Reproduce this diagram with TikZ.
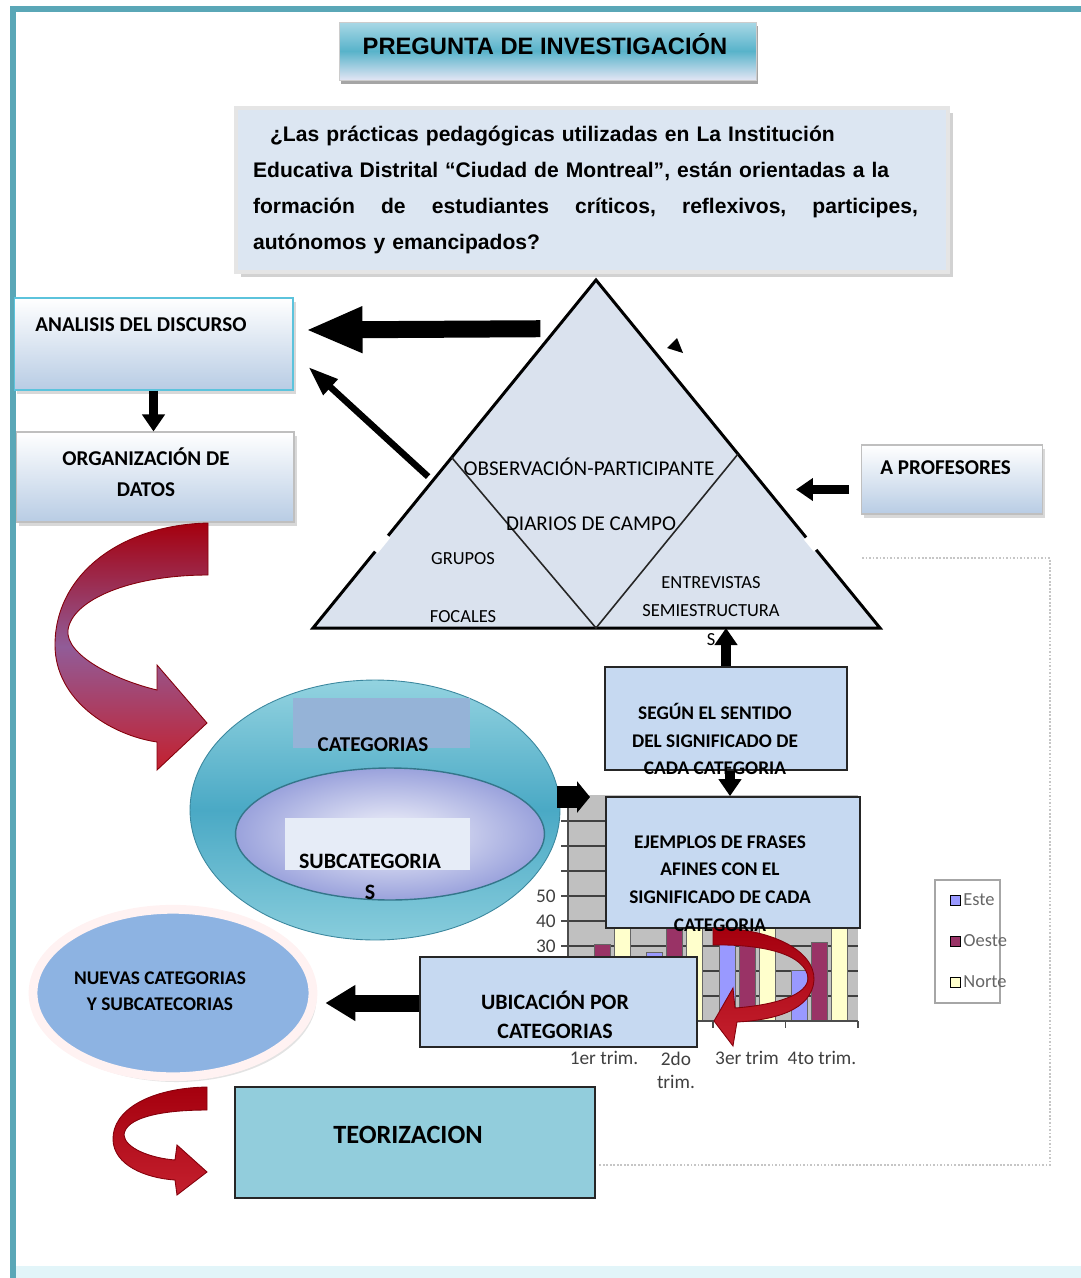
\documentclass[tikz,border=0pt]{standalone}
\usepackage{fontspec}
\setmainfont{Carlito}
\newfontfamily\arialfont{Liberation Sans}
\usetikzlibrary{arrows.meta,positioning,calc,shadows,shapes.geometric}
\definecolor{frameteal}{HTML}{5AA7B7}
\definecolor{framelow}{HTML}{E2F5F9}
\definecolor{qfill}{HTML}{DCE6F2}
\definecolor{boxfill}{HTML}{C6D9F1}
\definecolor{gradblue}{HTML}{B8CCE4}
\definecolor{cyanedge}{HTML}{5CC3DC}
\definecolor{trifill}{HTML}{DAE2EE}
\definecolor{teorfill}{HTML}{92CDDC}
\definecolor{titletop}{HTML}{A9D8E6}
\definecolor{titlemid}{HTML}{58B3CA}
\definecolor{titlebot}{HTML}{E2E5F4}
\definecolor{catlight}{HTML}{93D3E0}
\definecolor{catteal}{HTML}{4AA9C5}
\definecolor{catrectc}{HTML}{95B3D7}
\definecolor{sublav}{HTML}{9AA2DC}
\definecolor{subrectc}{HTML}{E6ECF7}
\definecolor{nuevfill}{HTML}{8DB3E2}
\definecolor{arcdark}{HTML}{A5000E}
\definecolor{arcpurple}{HTML}{915C98}
\definecolor{arcred}{HTML}{C4202E}
\definecolor{este}{HTML}{9999FF}
\definecolor{oeste}{HTML}{993366}
\definecolor{norte}{HTML}{FFFFCC}
\definecolor{plotgray}{HTML}{C0C0C0}
\tikzset{
  frameline/.style={draw=frameteal, line width=3pt},
  chartframe/.style={draw=gray!45, densely dotted, line width=1pt},
  gridln/.style={draw=black!75, line width=0.6pt},
  axisln/.style={draw=black!70, line width=0.6pt},
  barst/.style={draw=black!60, line width=0.4pt},
  axlbl/.style={font=\fontsize{11}{13}\selectfont, text=black!75, inner sep=0pt},
  legbox/.style={rectangle, draw=gray!70, fill=white, line width=0.6pt},
  leglbl/.style={font=\fontsize{10.5}{13}\selectfont, text=black!60, inner sep=0pt},
  titlebox/.style={rectangle, draw=gray!40, top color=titletop, bottom color=titlebot,
                   middle color=titlemid, drop shadow={shadow xshift=1pt, shadow yshift=-2.5pt, fill=black!70}},
  titlelbl/.style={font=\arialfont\bfseries\fontsize{13.5}{16}\selectfont, inner sep=0pt},
  qbox/.style={rectangle, draw=white!80!gray, line width=2pt, fill=qfill,
               drop shadow={shadow xshift=3pt, shadow yshift=-3pt, fill=black!35}},
  qtext/.style={font=\arialfont\bfseries\fontsize{12}{20.5}\selectfont, align=left, inner sep=0pt},
  tri/.style={draw=black, fill=trifill, line width=1.7pt, line join=miter},
  triin/.style={draw=black!85, line width=0.9pt},
  gapln/.style={draw=white, line width=3.5pt},
  trilbl/.style={font=\fontsize{12}{14}\selectfont, inner sep=0pt},
  trismall/.style={font=\fontsize{10.5}{16}\selectfont, align=center, inner sep=0pt},
  gradbox/.style={rectangle, draw=gray!50, top color=white, bottom color=gradblue, line width=0.6pt,
                  drop shadow={shadow xshift=1.5pt, shadow yshift=-2pt, fill=black!30}},
  bluebox/.style={rectangle, draw=black!85, fill=boxfill, line width=1pt},
  boldlbl/.style={font=\bfseries\fontsize{12}{17.6}\selectfont, align=center, inner sep=0pt},
  boldsmall/.style={font=\bfseries\fontsize{11}{15.7}\selectfont, align=center, inner sep=0pt},
  bigarr/.style={draw=black, line width=0.34cm, -{Triangle[length=1.14cm, width=0.85cm]}},
  ubarr/.style={draw=black, line width=0.34cm, -{Triangle[length=0.6cm, width=0.68cm]}},
  diagarr/.style={draw=black, line width=0.13cm, -{Triangle[length=0.6cm, width=0.4cm]}},
  midarr/.style={draw=black, line width=0.19cm, -{Triangle[length=0.34cm, width=0.44cm]}},
  blkarr/.style={draw=black, line width=0.44cm, -{Triangle[length=0.26cm, width=0.62cm]}},
  redarc/.style={top color=arcdark, bottom color=arcred, middle color=arcpurple,
                 draw=arcdark!80!black, line width=0.5pt},
  redarcb/.style={top color=arcdark, bottom color=arcred, draw=arcdark!80!black, line width=0.5pt},
  catell/.style={ellipse, draw=catteal!80!black, line width=0.5pt, top color=catlight,
                 bottom color=catlight!85!catteal, middle color=catteal},
  subell/.style={ellipse, draw=catteal!70!black, line width=0.8pt, inner color=white!90!sublav,
                 outer color=sublav},
  nuevell/.style={ellipse, draw=white!95!red, line width=5pt, fill=nuevfill,
                  drop shadow={shadow xshift=2pt, shadow yshift=-3pt, fill=black!22}},
}
\begin{document}
\begin{tikzpicture}[x=0.02cm, y=-0.02cm]
  \useasboundingbox (0,0) rectangle (1081,1278);
  % frame
  \fill[framelow] (14,1266) rectangle (1081,1278);
  \draw[frameline] (13,1278) -- (13,9) -- (1081,9);
  \draw[chartframe] (862,558) -- (1050,558) -- (1050,1165) -- (598,1165);

  % chart behind the boxes
  \coordinate (plotnw) at (568,795);
  \coordinate (plotse) at (858,1021);
  \fill[plotgray] (plotnw) rectangle (plotse);
  \foreach \k in {1,...,8}
    \draw[gridln] (568,1021-25*\k) -- (858,1021-25*\k);
  \foreach \c/\e/\o/\n in {0/20.4/30.6/45.9, 1/27.4/38.6/46.9, 2/90/34.6/45, 3/20.4/31.6/43.9} {
    \draw[barst, fill=este]  (574+72.5*\c,1021) rectangle (590+72.5*\c,1021-2.5*\e);
    \draw[barst, fill=oeste] (594+72.5*\c,1021) rectangle (610+72.5*\c,1021-2.5*\o);
    \draw[barst, fill=norte] (614+72.5*\c,1021) rectangle (630+72.5*\c,1021-2.5*\n);
  }
  \draw[axisln] (plotnw) -- (568,1021) -- (plotse);
  \foreach \k in {0,...,8}
    \draw[axisln] (561,1021-25*\k) -- (568,1021-25*\k);
  \foreach \k in {1,...,4}
    \draw[axisln] (568+72.5*\k,1021) -- (568+72.5*\k,1028);
  \foreach \v in {30,40,50}
    \node[axlbl, anchor=east] at (556,1021-2.5*\v) {\v};
  \node[axlbl] at (604,1058) {1er trim.};
  \node[axlbl, align=center] at (676,1070) {2do\\trim.};
  \node[axlbl] at (747,1058) {3er trim};
  \node[axlbl] at (822,1058) {4to trim.};
  \node[legbox, minimum width=1.3cm, minimum height=2.46cm] (leg) at (967.5,941.5) {};
  \foreach \yy/\col/\nm in {900/este/Este, 941/oeste/Oeste, 982/norte/Norte} {
    \draw[barst, draw=black, fill=\col] (950,\yy-5) rectangle (960,\yy+5);
    \node[leglbl, anchor=west] at (963,\yy) {\nm};
  }

  % question
  \node[titlebox, minimum width=8.34cm, minimum height=1.16cm] (preg) at (548,51) {};
  \node[titlelbl] (preg-t) at (545,44) {PREGUNTA DE INVESTIGACIÓN};
  \node[qbox, minimum width=14.24cm, minimum height=3.28cm] (quest) at (592,190) {};
  \node[qtext, text width=13.3cm] (quest-t) at (585.5,190)
    {\hspace*{0.34cm}¿Las prácticas pedagógicas utilizadas en La Institución\\
     Educativa Distrital “Ciudad de Montreal”, están orientadas a la\\
     \makebox[13.3cm][l]{formación\hfill de\hfill estudiantes\hfill críticos,\hfill reflexivos,\hfill participes,}\\
     autónomos y emancipados?};

  % triangle of techniques
  \coordinate (apex) at (596,280);
  \coordinate (bl) at (313,628);
  \coordinate (br) at (880,628);
  \coordinate (bm) at (596,628);
  \coordinate (ml) at ($(apex)!0.51!(bl)$);
  \coordinate (mr) at ($(apex)!0.50!(br)$);
  \draw[tri] (apex) -- (br) -- (bl) -- cycle;
  \draw[triin] (ml) -- (bm) -- (mr);
  \draw[gapln] ($(apex)!0.735!(bl)$) -- ($(apex)!0.78!(bl)$);
  \draw[gapln] ($(apex)!0.74!(br)$) -- ($(apex)!0.775!(br)$);
  \fill (667,348) -- (677,338) -- (683,353) -- cycle;
  \node[trilbl] (obs) at (589,467) {OBSERVACIÓN-PARTICIPANTE};
  \node[trilbl] (diar) at (591,524) {DIARIOS DE CAMPO};
  \node[trismall, font=\fontsize{10.5}{33}\selectfont] (grup) at (463,588) {GRUPOS\\FOCALES};
  \node[trismall] (entr) at (711,611) {ENTREVISTAS\\SEMIESTRUCTURA\\S};

  % analysis boxes
  \node[gradbox, draw=cyanedge, minimum width=5.58cm, minimum height=1.84cm] (adisc) at (153.5,344) {};
  \node[gradbox, minimum width=5.56cm, minimum height=1.8cm] (odat) at (155,477) {};
  \node[gradbox, minimum width=3.62cm, minimum height=1.38cm] (aprof) at (952,479.5) {};
  \node[boldlbl, anchor=west] (adisc-t) at (35,325) {ANALISIS DEL DISCURSO};
  \node[boldlbl] (odat-t) at (146,472) {ORGANIZACIÓN DE\\DATOS};
  \node[boldlbl, anchor=west] (aprof-t) at (880,468) {A PROFESORES};
  \draw[bigarr] ($(apex)!0.14!(bl)+(-16,0)$) -- ($(adisc.east)+(12,-14)$);
  \draw[diagarr] ($(apex)!0.565!(bl)+(-8,0)$) -- ($(adisc.east)+(15,23)$);
  \draw[midarr] (adisc.south) -- (adisc.south |- odat.north);
  \draw[midarr] ($(aprof.west)+(-12,10)$) -- ($(aprof.west)+(-65,10)$);

  % red arc to the categories
  \shade[redarc] (208,523) .. controls (120,525) and (55,575) .. (55,645)
    .. controls (55,700) and (110,735) .. (157,742) -- (157,770) -- (207,723) -- (157,665)
    -- (157,690) .. controls (115,680) and (65,655) .. (68,630)
    .. controls (72,600) and (130,575) .. (208,575) -- cycle;

  % categories
  \node[catell, minimum width=7.4cm, minimum height=5.2cm] (cat) at (375,810) {};
  \fill[catrectc] (293,698) rectangle (470,748);
  \node[subell, minimum width=6.18cm, minimum height=2.64cm] (subc) at (390,834) {};
  \fill[subrectc] (285,818) rectangle (470,870);
  \node[boldlbl] (cat-t) at (373,745) {CATEGORIAS};
  \node[boldlbl, font=\bfseries\fontsize{12.5}{17.6}\selectfont] (subc-t) at (370,877) {SUBCATEGORIA\\S};
  \draw[blkarr] ($(cat.east)+(-3,-13)$) -- ($(plotnw)+(22,2)$);

  % meaning boxes
  \node[bluebox, minimum width=4.84cm, minimum height=2.06cm] (segun) at (726,718.5) {};
  \node[bluebox, minimum width=5.08cm, minimum height=2.62cm] (ejem) at (733,862.5) {};
  \coordinate (sgs) at ($(segun.south)+(4,0)$);
  \draw[midarr] (segun.north) -- (segun.north |- bm);
  \draw[midarr] (sgs) -- (sgs |- ejem.north);
  \shade[redarcb] (713,928) .. controls (770,928) and (815,950) .. (814,980)
    .. controls (812,1010) and (775,1020) .. (737,1022) -- (733,1046) -- (714,1021) -- (733,988)
    -- (735,1008) .. controls (775,1005) and (808,995) .. (808,978)
    .. controls (806,955) and (765,944) .. (713,945) -- cycle;
  \node[boldsmall] (segun-t) at (715,739) {SEGÚN EL SENTIDO\\DEL SIGNIFICADO DE\\CADA CATEGORIA};
  \node[boldsmall] (ejem-t) at (720,883.5) {EJEMPLOS DE FRASES\\AFINES CON EL\\SIGNIFICADO DE CADA\\CATEGORIA};

  % placement and new categories
  \node[bluebox, minimum width=5.54cm, minimum height=1.8cm] (ubic) at (558.5,1002) {};
  \node[boldlbl, font=\bfseries\fontsize{12.5}{16.4}\selectfont] (ubic-t) at (555,1014.5) {UBICACIÓN POR\\CATEGORIAS};
  \node[nuevell, minimum width=5.6cm, minimum height=3.35cm] (nuev) at (173,993) {};
  \node[boldsmall, font=\bfseries\fontsize{11}{15}\selectfont] (nuev-t) at (160,991) {NUEVAS CATEGORIAS\\Y SUBCATECORIAS};
  \coordinate (nuevtip) at ($(nuev.east)+(8,0)$);
  \draw[ubarr] ($(ubic.west)+(0,1)$) -- ($(ubic.west -| nuevtip)+(0,1)$);

  % theory
  \shade[redarcb] (207,1087) .. controls (150,1088) and (112,1110) .. (113,1140)
    .. controls (114,1165) and (145,1178) .. (175,1180) -- (177,1195) -- (207,1172) -- (177,1145)
    -- (175,1160) .. controls (150,1158) and (125,1148) .. (124,1135)
    .. controls (125,1118) and (160,1110) .. (207,1110) -- cycle;
  \node[bluebox, fill=teorfill, minimum width=7.2cm, minimum height=2.22cm] (teor) at (415,1142.5) {};
  \node[boldlbl, font=\bfseries\fontsize{15}{18}\selectfont] (teor-t) at (408,1135) {TEORIZACION};
\end{tikzpicture}
\end{document}
